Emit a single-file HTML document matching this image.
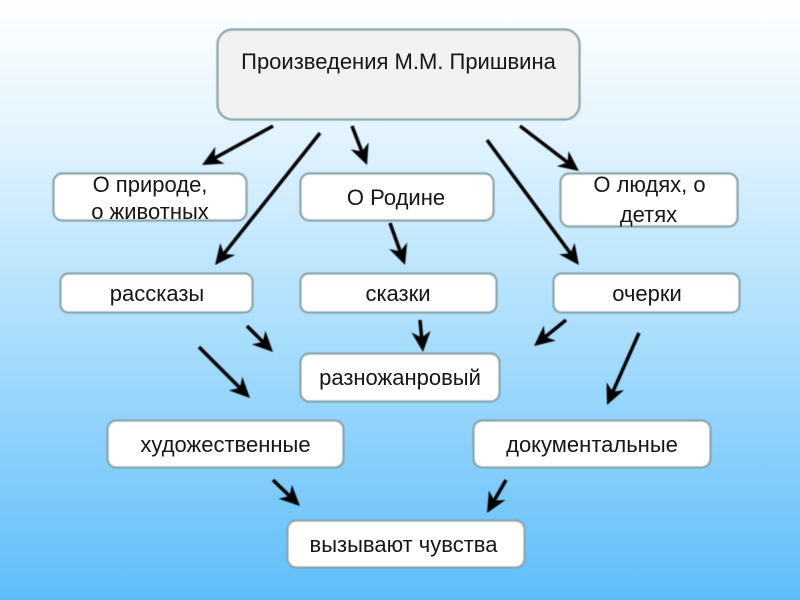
<!DOCTYPE html>
<html lang="ru">
<head>
<meta charset="utf-8">
<style>
html,body{margin:0;padding:0;width:800px;height:600px;overflow:hidden}
svg{display:block}
text{font-family:"Liberation Sans",sans-serif;font-size:22px;fill:#151515;text-anchor:middle}
.b{fill:#fff;stroke:#86a3a8;stroke-width:2.200}
.a{stroke:#000;stroke-width:3.500;fill:none;marker-end:url(#h)}
</style>
</head>
<body>
<svg width="800" height="600" viewBox="0 0 800 600" xmlns="http://www.w3.org/2000/svg">
<defs>
<linearGradient id="bg" x1="0" y1="0" x2="0" y2="1">
<stop offset="0" stop-color="#ffffff"/>
<stop offset="0.2" stop-color="#e6f5fe"/>
<stop offset="0.5" stop-color="#b4e2fd"/>
<stop offset="1" stop-color="#5fbdfa"/>
</linearGradient>
<marker id="h" markerUnits="userSpaceOnUse" markerWidth="24" markerHeight="24" refX="13.700" refY="10" orient="auto" viewBox="0 0 20 20">
<path d="M17 10 L0 2 L5 10 L0 18 Z" fill="#000"/>
</marker>
<filter id="s" x="0" y="0" width="800" height="600" filterUnits="userSpaceOnUse"><feGaussianBlur stdDeviation="0.400"/></filter>
<filter id="t" x="0" y="0" width="800" height="600" filterUnits="userSpaceOnUse"><feGaussianBlur stdDeviation="0.300"/></filter>
</defs>
<rect width="800" height="600" fill="url(#bg)"/>
<g filter="url(#s)">
<rect x="217.500" y="29.500" width="362" height="90" rx="15" fill="#f2f2f2" stroke="#86a3a8" stroke-width="2.200"/>
<rect class="b" x="53.500" y="173.500" width="193" height="47" rx="9"/>
<rect class="b" x="300.500" y="173.500" width="193" height="47" rx="9"/>
<rect class="b" x="560.500" y="173.500" width="177" height="53" rx="9"/>
<rect class="b" x="60.500" y="273.500" width="192" height="39" rx="8"/>
<rect class="b" x="300.500" y="273.500" width="196" height="39" rx="8"/>
<rect class="b" x="553.500" y="273.500" width="186" height="39" rx="8"/>
<rect class="b" x="300.500" y="353.500" width="199" height="48" rx="9"/>
<rect class="b" x="107.500" y="420.500" width="236" height="47" rx="9"/>
<rect class="b" x="473.500" y="420.500" width="237" height="47" rx="9"/>
<rect class="b" x="287.500" y="520.500" width="237" height="47" rx="9"/>

<line class="a" x1="273" y1="126" x2="205.500" y2="163.100"/>
<line class="a" x1="320" y1="133" x2="217.500" y2="261.900"/>
<line class="a" x1="352" y1="126" x2="365.600" y2="161.300"/>
<line class="a" x1="487" y1="140" x2="576.600" y2="261.800"/>
<line class="a" x1="520" y1="126" x2="575.800" y2="168.600"/>
<line class="a" x1="390" y1="223" x2="403.700" y2="261.200"/>
<line class="a" x1="247" y1="326" x2="270.200" y2="349.200"/>
<line class="a" x1="420" y1="320" x2="422.600" y2="348"/>
<line class="a" x1="566" y1="320" x2="537.100" y2="343.500"/>
<line class="a" x1="199" y1="347" x2="247.200" y2="395.200"/>
<line class="a" x1="639" y1="333" x2="608.600" y2="401.300"/>
<line class="a" x1="273" y1="480" x2="297.100" y2="503.200"/>
<line class="a" x1="506" y1="480" x2="489" y2="509.500"/>
</g>
<g filter="url(#t)">
<text x="398.500" y="69">Произведения М.М. Пришвина</text>
<text x="150" y="192">О природе,</text>
<text x="150" y="219">о животных</text>
<text x="396" y="205">О Родине</text>
<text x="649.500" y="192">О людях, о</text>
<text x="648.500" y="222">детях</text>
<text x="157" y="301">рассказы</text>
<text x="398" y="301">сказки</text>
<text x="647" y="301">очерки</text>
<text x="400" y="385">разножанровый</text>
<text x="225.500" y="452">художественные</text>
<text x="592" y="452">документальные</text>
<text x="403.500" y="552">вызывают чувства</text>
</g>
</svg>
</body>
</html>
